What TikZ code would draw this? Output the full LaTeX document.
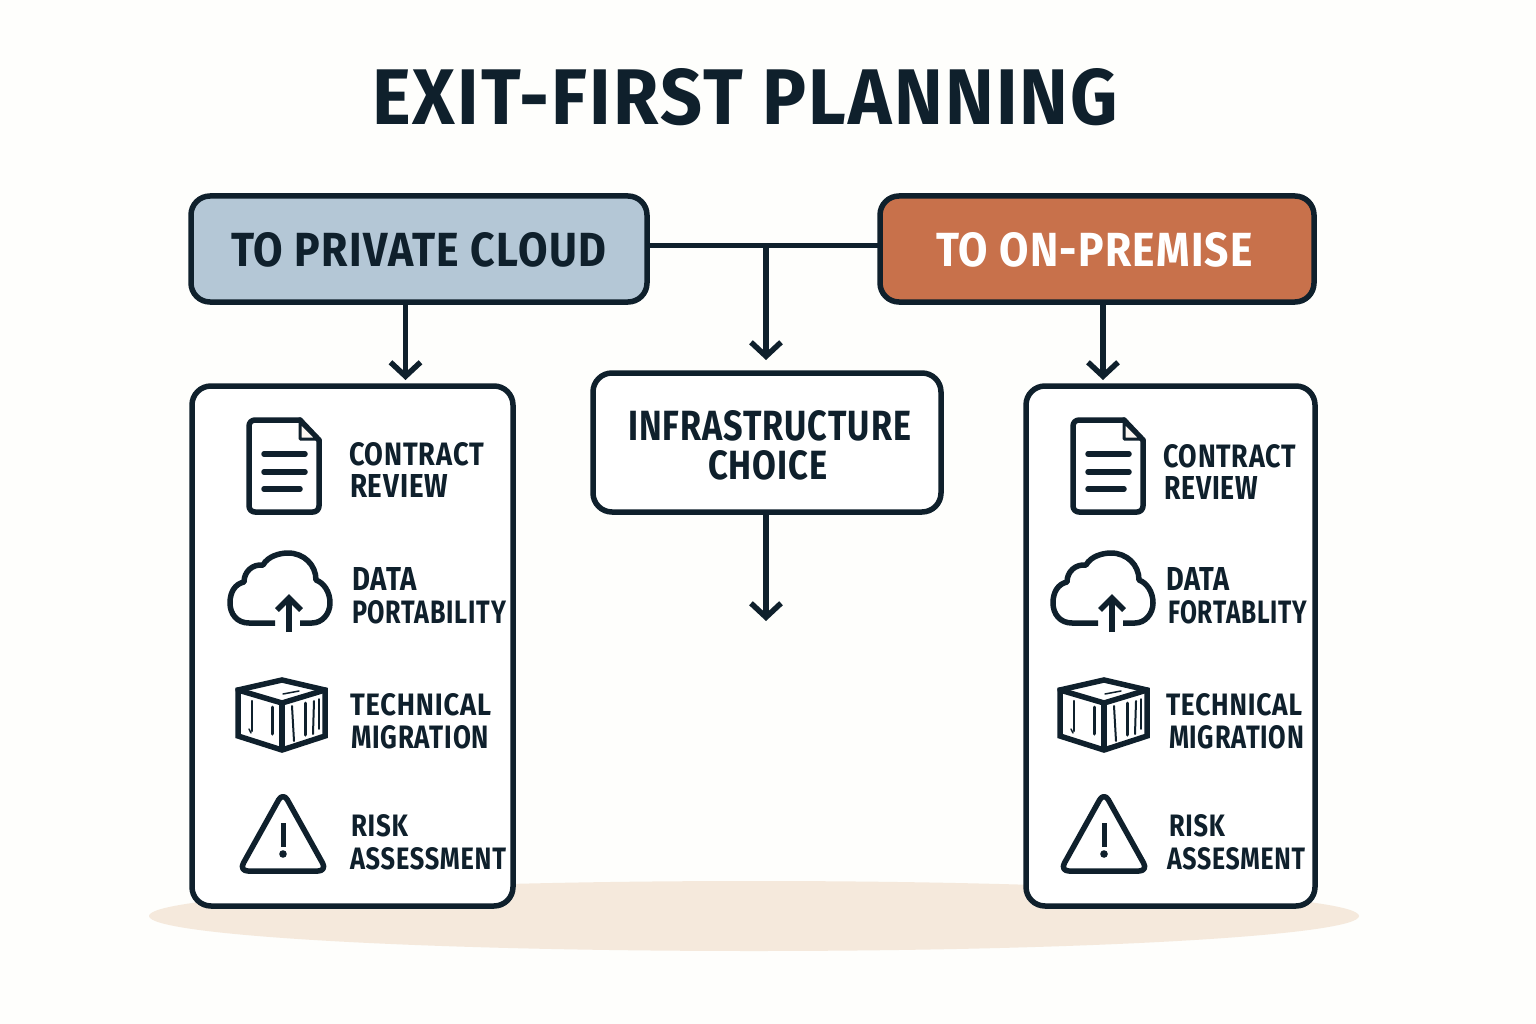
\documentclass[tikz,border=0pt]{standalone}
\usepackage{fontspec}
\usepackage{graphicx}
\setmainfont{Fira Sans}[LetterSpace=3]
\usetikzlibrary{arrows.meta,calc}
\definecolor{ink}{HTML}{0F202C}
\definecolor{paper}{HTML}{FEFEFC}
\definecolor{sand}{HTML}{F5E9DC}
\definecolor{steel}{HTML}{B4C7D6}
\definecolor{clay}{HTML}{C8714B}
\newcommand{\lab}[7][ink]{%
  \pgfmathsetmacro{\lw}{#5-#3}\pgfmathsetmacro{\lh}{#6-#4}%
  \node[lbl,text=#1] (#2) at (#3,#6) {\resizebox{\lw pt}{\lh pt}{\bfseries #7}};}
\tikzset{
  x=1pt,y=-1pt,
  lbl/.style={anchor=base west,inner sep=0pt,outer sep=0pt},
  box/.style={draw=ink,line width=5.5pt,rounded corners=19pt,inner sep=0pt,outer sep=0pt},
  conn/.style={draw=ink,line width=5.5pt},
  arr/.style={conn,-{Straight Barb[length=14pt,width=30pt,line width=5.5pt]}},
  ico/.style={draw=ink,line width=5.5pt,line join=round,line cap=round},
  thin/.style={draw=ink,line cap=round,line width=#1},
  docicon/.pic={
    \draw[ico,rounded corners=6pt] (52,0) -- (1,0) -- (1,92) -- (71,92) -- (71,20);
    \draw[ico] (52,0) -- (71,20);
    \draw[draw=ink,line width=3pt,line join=round,fill=sand!40] (52,2) -- (52,19) -- (69,19) -- cycle;
    \draw[ico] (16,34) -- (57,34);
    \draw[ico] (16,52) -- (57,52);
    \draw[ico] (16,69) -- (52,69);
  },
  cloudicon/.pic={
    \draw[ico,line cap=butt] (47,72) -- (21,72) .. controls (9,72) and (2,63) .. (2,52)
      .. controls (2,41) and (7,33) .. (16,31) .. controls (16,21) and (24,13) .. (35,14)
      .. controls (40,5) and (52,2) .. (60,2) .. controls (76,2) and (88,14) .. (88,29)
      .. controls (96,32) and (102,41) .. (102,52) .. controls (102,63) and (94,72) .. (84,72) -- (72,72);
    \draw[ico,line cap=butt] (61,81) -- (61,48);
    \draw[ico,line cap=butt,line join=miter] (49,59) -- (61,47) -- (73,59);
  },
  boxicon/.pic={
    \draw[ico,line join=miter] (1,11) -- (45,1) -- (88,11) -- (88,57) -- (45,71) -- (1,57) -- cycle;
    \draw[ico,line join=miter] (1,11) -- (45,24) -- (88,11);
    \draw[ico,line cap=butt] (45,24) -- (45,71);
    \draw[thin=2.5pt] (15,22) -- (15,52);
    \draw[thin=1.5pt] (12,50) -- (14,54);
    \draw[thin=3pt] (35,28) -- (35,55);
    \draw[thin=2pt] (55,27) -- (57,62);
    \draw[thin=3pt] (68,24) -- (68,56);
    \draw[thin=2pt] (77,22) -- (76,55);
    \draw[thin=1.5pt] (82,20) -- (82,50);
    \draw[thin=1.5pt] (46,15) -- (62,12);
    \draw[thin=1pt] (55,5) -- (72,9);
  },
  warnicon/.pic={
    \draw[ico,rounded corners=9pt] (43,-6) -- (87,73) -- (-1,73) -- cycle;
    \draw[line width=5pt,draw=ink] (43,25) -- (43,49);
    \fill[ink] (43,56) circle (3.8pt);
  }
}
\begin{document}
\begin{tikzpicture}
\useasboundingbox (0,0) rectangle (1536,1024);
\fill[paper] (0,0) rectangle (1536,1024);
\fill[sand] (754,916) ellipse [x radius=605pt,y radius=35pt];

\lab{title}{372}{69}{1118}{125}{EXIT-FIRST PLANNING}

\node[box,fill=steel,minimum width=456pt,minimum height=106pt] (hl) at (419,249) {};
\node[box,fill=clay,minimum width=434pt,minimum height=106pt] (hr) at (1097,249) {};
\lab{hlt}{231}{232}{606}{266}{TO PRIVATE CLOUD}
\lab[white]{hrt}{936}{232}{1253}{266}{TO ON-PREMISE}

\node[box,fill=white,minimum width=321pt,minimum height=520pt] (pl) at (352.5,646) {};
\node[box,fill=white,minimum width=289pt,minimum height=520pt] (pr) at (1170.5,646) {};
\node[box,fill=white,minimum width=348pt,minimum height=139pt] (ic) at (767,442.5) {};

\lab{ic1}{628}{410}{911}{440}{INFRASTRUCTURE}
\lab{ic2}{708}{450}{828}{479}{CHOICE}

\coordinate (j) at (766,245.5);
\coordinate (tl) at (405.5,380);
\coordinate (tr) at (1103,380);
\coordinate (tc) at (766,360);
\coordinate (tb) at (766,621);
\draw[conn] (hl.east |- j) -- (hr.west |- j);
\draw[arr] (j) -- (tc);
\draw[arr] (hl.south -| tl) -- (tl);
\draw[arr] (hr.south -| tr) -- (tr);
\draw[arr] (ic.south -| tb) -- (tb);

\pic at (248,420) {docicon};
\pic at (228,551) {cloudicon};
\pic at (237,679) {boxicon};
\pic at (240,798) {warnicon};
\pic at (1072,420) {docicon};
\pic at (1051,551) {cloudicon};
\pic at (1059,679) {boxicon};
\pic at (1061,798) {warnicon};

\lab{a1}{349}{442}{484}{465}{CONTRACT}
\lab{a2}{350}{474}{448}{497}{REVIEW}
\lab{a3}{352}{567}{417}{590}{DATA}
\lab{a4}{352}{600}{506}{623}{PORTABILITY}
\lab{a5}{350}{693}{491}{715}{TECHNICAL}
\lab{a6}{351}{725}{489}{748}{MIGRATION}
\lab{a7}{351}{814}{408}{836}{RISK}
\lab{a8}{350}{847}{506}{869}{ASSESSMENT}

\lab{b1}{1163}{444}{1296}{467}{CONTRACT}
\lab{b2}{1164}{476}{1258}{499}{REVIEW}
\lab{b3}{1166}{567}{1230}{590}{DATA}
\lab{b4}{1168}{600}{1307}{623}{FORTABLITY}
\lab{b5}{1166}{693}{1302}{715}{TECHNICAL}
\lab{b6}{1169}{725}{1304}{748}{MIGRATION}
\lab{b7}{1169}{814}{1225}{836}{RISK}
\lab{b8}{1167}{847}{1305}{869}{ASSESMENT}
\end{tikzpicture}
\end{document}
